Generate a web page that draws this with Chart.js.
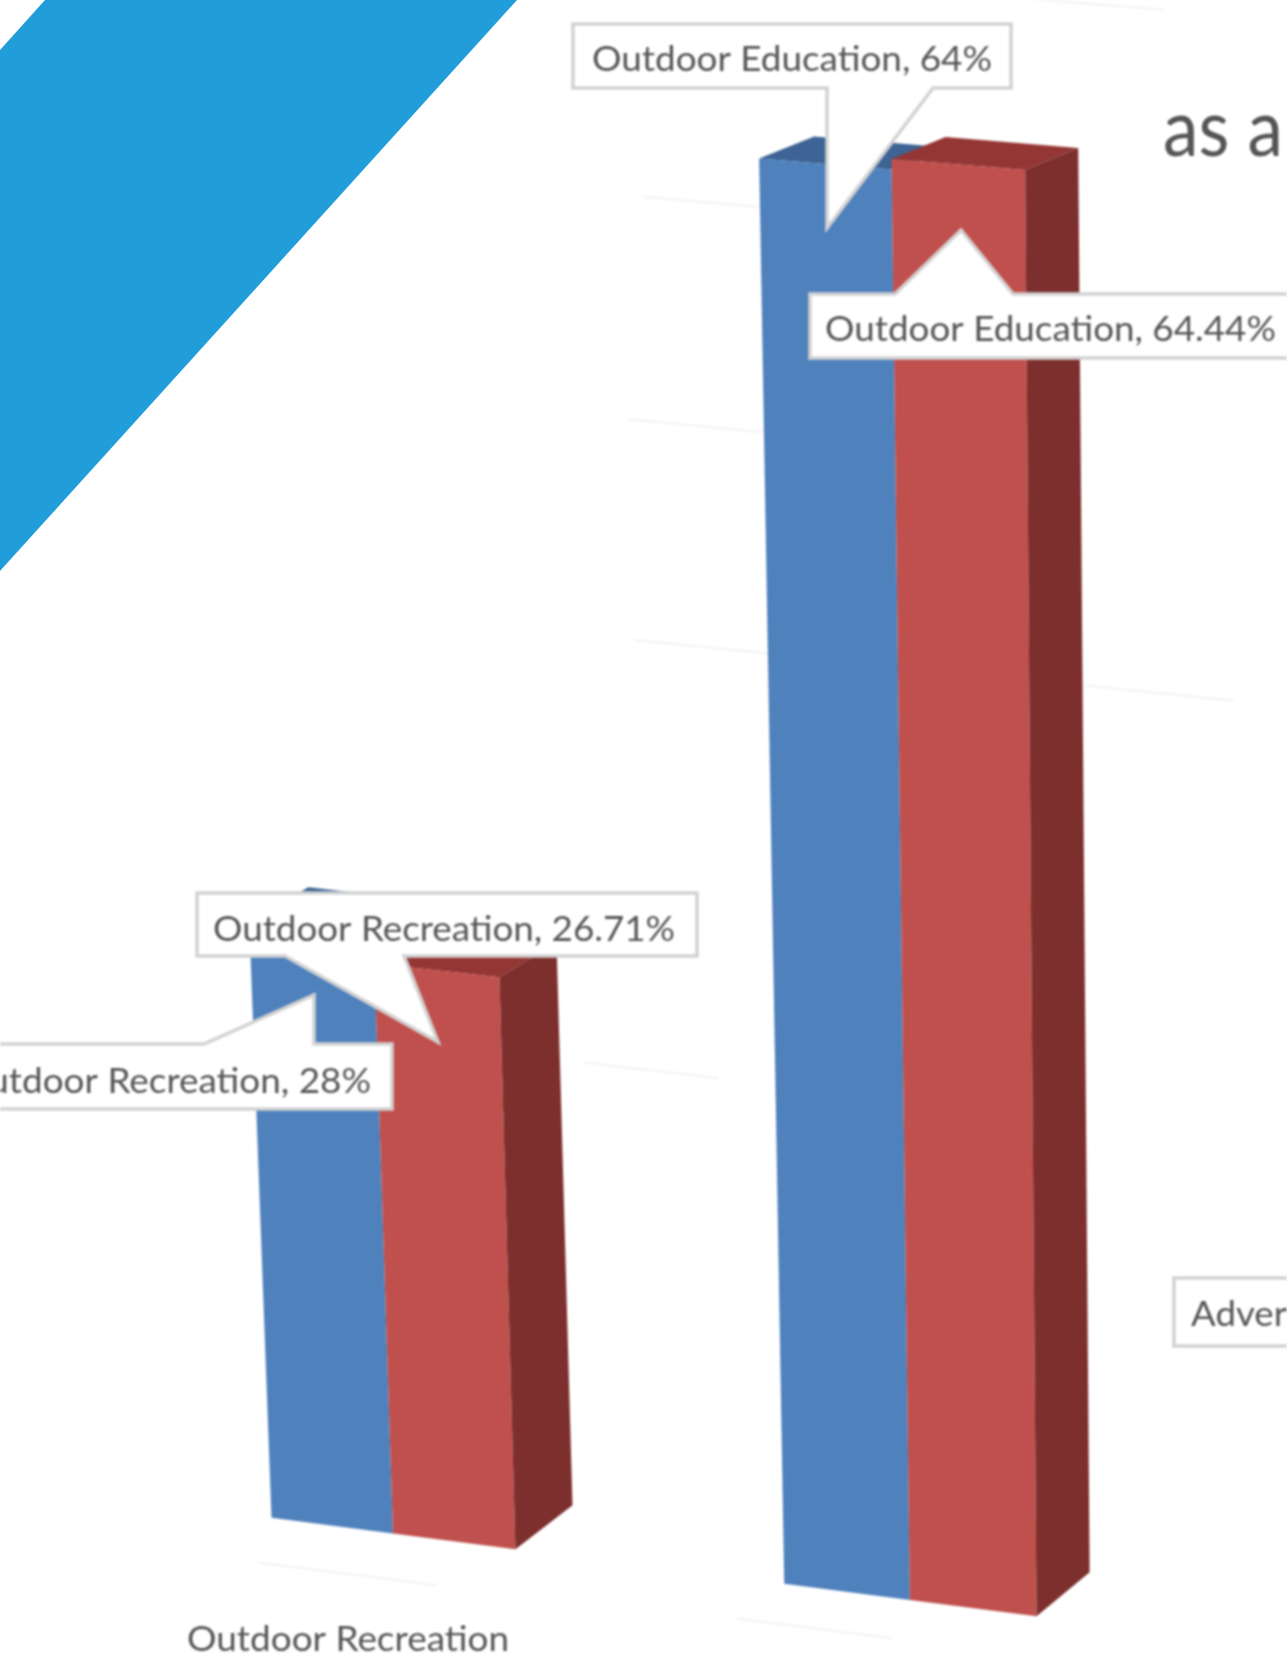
<!DOCTYPE html>
<html>
<head>
<meta charset="utf-8">
<title>Outdoor chart</title>
<script src="https://cdn.jsdelivr.net/npm/chart.js@4"></script>
<style>
  html, body { margin: 0; padding: 0; background: #fff; overflow: hidden; }
  #wrap { position: relative; width: 1287px; height: 1664px; overflow: hidden; }
  #wedge {
    position: absolute; left: 0; top: 0; width: 1287px; height: 1664px;
    background: #219ed9;
    clip-path: polygon(45px 0, 517px 0, 0 571px, 0 50px);
  }
  #chart { position: absolute; left: 0; top: 0; filter: blur(1px); }
</style>
</head>
<body>
<div id="wrap">
  <div id="wedge"></div>
  <canvas id="chart" width="1287" height="1664"></canvas>
</div>
<script>
const categories = ["Outdoor Recreation", "Outdoor Education"];
const blueValues = [28, 64];
const redValues = [26.71, 64.44];
const yTicks = [0, 10, 20, 30, 40, 50, 60, 70];
const clippedLabel = "Adver";
const clippedTitle = "as a";

// camera for the tilted 3D look: scale fractions (0..1) to page pixels
const corners = [[141, 1501], [1175, 1634], [1171, 49], [76, -36]];

function makeHomography(q) {
  const [[x0, y0], [x1, y1], [x2, y2], [x3, y3]] = q;
  const dx1 = x1 - x2, dx2 = x3 - x2, sx = x0 - x1 + x2 - x3;
  const dy1 = y1 - y2, dy2 = y3 - y2, sy = y0 - y1 + y2 - y3;
  const den = dx1 * dy2 - dx2 * dy1;
  const g = (sx * dy2 - dx2 * sy) / den;
  const h = (dx1 * sy - sx * dy1) / den;
  const a = x1 - x0 + g * x1, b = x3 - x0 + h * x3;
  const d = y1 - y0 + g * y1, e = y3 - y0 + h * y3;
  return (s, t) => {
    const w = g * s + h * t + 1;
    return [(a * s + b * t + x0) / w, (d * s + e * t + y0) / w];
  };
}
const camera = makeHomography(corners);

function project(chart, u, v, depth = 0) {
  const { chartArea: area } = chart;
  const s = (u - area.left) / (area.right - area.left);
  const t = (area.bottom - v) / (area.bottom - area.top);
  const [x, y] = camera(s, t);
  const dx = 60 - 8 * s;
  const dy = -44 + 22 * (t / 0.92);
  return [x + dx * depth, y + dy * depth];
}

function fillPoly(ctx, pts, color) {
  ctx.beginPath();
  pts.forEach((p, i) => i ? ctx.lineTo(p[0], p[1]) : ctx.moveTo(p[0], p[1]));
  ctx.closePath();
  ctx.fillStyle = color;
  ctx.fill();
}

// text squeezed to a measured width, the source font is a narrow one
function fitText(ctx, text, x, y, width, size) {
  ctx.save();
  ctx.font = size + 'px Lato';
  ctx.textBaseline = 'middle';
  ctx.textAlign = 'left';
  ctx.fillStyle = '#555';
  const natural = ctx.measureText(text).width;
  ctx.translate(x, y + 2);
  ctx.scale(width / natural, 1);
  ctx.fillText(text, 0, 0);
  ctx.restore();
}

const boxes3d = {
  id: 'boxes3d',
  // all faces go down here, blue first, so red sits on top but stays on the right
  beforeDatasetsDraw(chart, args, opts) {
    const { ctx } = chart;
    chart.data.datasets.forEach((ds, index) => {
      const dark = opts.shades[index];
      chart.getDatasetMeta(index).data.forEach(bar => {
        const { x, y, base, width } = bar.getProps(['x', 'y', 'base', 'width'], true);
        const l = x - width / 2, r = x + width / 2;
        const topL = project(chart, l, y), topR = project(chart, r, y);
        const botL = project(chart, l, base), botR = project(chart, r, base);
        const backTL = project(chart, l, y, 1), backTR = project(chart, r, y, 1);
        const backBR = project(chart, r, base, 1);
        fillPoly(ctx, [topL, topR, backTR, backTL], dark.top);
        fillPoly(ctx, [topL, topR, botR, botL], bar.options.backgroundColor);
        if (dark.side) fillPoly(ctx, [topR, backTR, backBR, botR], dark.side);
      });
    });
  },
  beforeDatasetDraw() {
    return false;
  }
};

const faintGrid = {
  id: 'faintGrid',
  beforeDatasetsDraw(chart, args, opts) {
    const { ctx, scales: { x: xs, y: ys } } = chart;
    ctx.save();
    ctx.strokeStyle = opts.color;
    ctx.lineWidth = 2;
    opts.segments.forEach(seg => {
      const v = ys.getPixelForValue(yTicks[seg.tick]);
      const p = project(chart, xs.left + seg.from * xs.width, v, seg.depth);
      const q = project(chart, xs.left + seg.to * xs.width, v, seg.depth);
      ctx.beginPath();
      ctx.moveTo(p[0], p[1]);
      ctx.lineTo(q[0], q[1]);
      ctx.stroke();
    });
    ctx.restore();
  }
};

const callouts = {
  id: 'callouts',
  afterDatasetsDraw(chart, args, opts) {
    const { ctx } = chart;
    opts.items.forEach(c => {
      const [x0, y0, x1, y1] = c.box;
      const edge = c.tip[1] > y1 ? y1 : y0;
      const pts = edge === y1
        ? [[x0, y0], [x1, y0], [x1, y1], [c.base[1], y1], c.tip, [c.base[0], y1], [x0, y1]]
        : [[x0, y0], [c.base[0], y0], c.tip, [c.base[1], y0], [x1, y0], [x1, y1], [x0, y1]];
      fillPoly(ctx, pts, '#fff');
      ctx.strokeStyle = '#d2d2d2';
      ctx.lineWidth = 3.5;
      ctx.stroke();
      fitText(ctx, c.text, c.textX, c.textY, c.textW, 35);
    });
    opts.plain.forEach(p => {
      const [x0, y0, x1, y1] = p.box;
      ctx.fillStyle = '#fff';
      ctx.fillRect(x0, y0, x1 - x0, y1 - y0);
      ctx.strokeStyle = '#d2d2d2';
      ctx.lineWidth = 3.5;
      ctx.strokeRect(x0, y0, x1 - x0, y1 - y0);
      fitText(ctx, p.text, p.textX, p.textY, p.textW, 35);
    });
    fitText(ctx, categories[0], 187, 1638, 322, 35);
    fitText(ctx, clippedTitle, 1163, 128, 120, 80);
  }
};

new Chart(document.getElementById('chart'), {
  type: 'bar',
  plugins: [faintGrid, boxes3d, callouts],
  data: {
    labels: categories,
    datasets: [
      { label: 'Blue', data: blueValues, backgroundColor: '#4f81bd' },
      { label: 'Red', data: redValues, backgroundColor: '#c0504d' }
    ]
  },
  options: {
    responsive: false,
    animation: false,
    devicePixelRatio: 1,
    categoryPercentage: 0.48,
    barPercentage: 1,
    layout: { padding: 0 },
    scales: {
      x: { display: false },
      y: { display: false, min: 0, max: 70, afterBuildTicks: axis => { axis.ticks = yTicks.map(value => ({ value })); } }
    },
    plugins: {
      legend: { display: false },
      tooltip: { enabled: false },
      boxes3d: {
        shades: [{ top: '#3d6494' }, { top: '#943634', side: '#7c2f2d' }]
      },
      faintGrid: {
        color: '#f3f3f3',
        segments: [
          { tick: 6, from: 0.44, to: 0.56, depth: 1.6 },
          { tick: 5, from: 0.42, to: 0.56, depth: 1.6 },
          { tick: 4, from: 0.42, to: 0.55, depth: 1.6 },
          { tick: 2, from: 0.36, to: 0.49, depth: 1.6 },
          { tick: 4, from: 0.84, to: 0.98, depth: 1.6 },
          { tick: 7, from: 0.78, to: 0.92, depth: 1.6 },
          { tick: 0, from: 0.168, to: 0.344, depth: -0.9 },
          { tick: 0, from: 0.627, to: 0.775, depth: -0.8 }
        ]
      },
      callouts: {
        items: [
          { text: `${categories[1]}, ${blueValues[1]}%`, box: [573, 24, 1011, 88], base: [827, 933], tip: [827, 228], textX: 592, textY: 58, textW: 400 },
          { text: `${categories[1]}, ${redValues[1]}%`, box: [810, 294, 1300, 358], base: [895, 1013], tip: [961, 230], textX: 825, textY: 328, textW: 451 },
          { text: `${categories[0]}, ${redValues[0]}%`, box: [197, 893, 697, 956], base: [285, 404], tip: [438, 1042], textX: 213, textY: 928, textW: 462 },
          { text: `${categories[0]}, ${blueValues[0]}%`, box: [-20, 1044, 392, 1109], base: [204, 314], tip: [314, 995], textX: -41, textY: 1080, textW: 412 }
        ],
        plain: [
          { text: clippedLabel, box: [1174, 1278, 1300, 1346], textX: 1191, textY: 1313, textW: 96 }
        ]
      }
    }
  }
});
</script>
</body>
</html>
